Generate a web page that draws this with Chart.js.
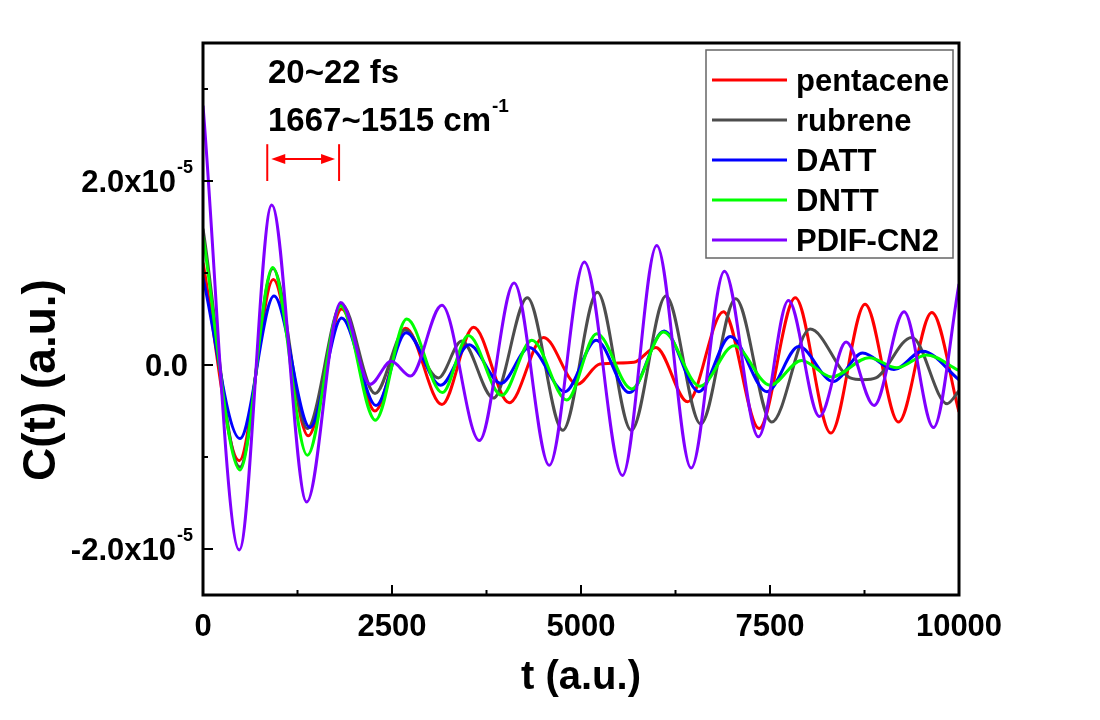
<!DOCTYPE html>
<html lang="en">
<head>
<meta charset="UTF-8">
<title>C(t)</title>
<script src="https://cdn.jsdelivr.net/npm/chart.js"></script>
<style>
  html, body { margin: 0; padding: 0; background: #fff; }
  #wrap { width: 1100px; height: 720px; }
</style>
</head>
<body>
<div id="wrap"><canvas id="chartCanvas" width="1100" height="720"></canvas></div>
<script>
// C(t), in units of 1e-5 (t in a.u.)
const UNIT = 1e-5;

const pentaceneT = [0, 480, 930, 1393, 1835, 2275, 2680, 3160, 3580, 4050, 4505, 4950, 5250, 5700, 5990, 6410, 6884, 7355, 7835, 8304, 8758, 9200, 9641, 10000];
const pentaceneC = [1.11, -1.04, 0.93, -0.77, 0.61, -0.50, 0.40, -0.43, 0.41, -0.41, 0.30, -0.21, 0.01, 0.03, 0.19, -0.40, 0.58, -0.69, 0.73, -0.74, 0.66, -0.62, 0.57, -0.51];

const rubreneT = [0, 489, 925, 1380, 1835, 2275, 2672, 3113, 3422, 3841, 4290, 4759, 5217, 5665, 6124, 6583, 7046, 7523, 8030, 8560, 8735, 8900, 9376, 9843, 10000];
const rubreneC = [1.48, -1.11, 1.05, -0.69, 0.66, -0.31, 0.38, -0.14, 0.26, -0.36, 0.73, -0.71, 0.79, -0.71, 0.75, -0.64, 0.72, -0.62, 0.39, -0.14, -0.16, -0.14, 0.30, -0.42, -0.28];

const dattT = [0, 489, 939, 1415, 1835, 2289, 2686, 3145, 3520, 3940, 4315, 4789, 5200, 5640, 6100, 6560, 6975, 7460, 7880, 8335, 8725, 9140, 9520, 10000];
const dattC = [0.95, -0.80, 0.75, -0.68, 0.51, -0.44, 0.35, -0.22, 0.22, -0.20, 0.19, -0.29, 0.27, -0.30, 0.37, -0.29, 0.31, -0.29, 0.20, -0.18, 0.13, -0.05, 0.15, -0.16];

const dnttT = [0, 489, 922, 1380, 1822, 2280, 2695, 3166, 3510, 3950, 4350, 4811, 5208, 5671, 6090, 6574, 7025, 7502, 7917, 8315, 8812, 9180, 9571, 10000];
const dnttC = [1.40, -1.14, 1.06, -0.98, 0.64, -0.60, 0.50, -0.30, 0.32, -0.33, 0.27, -0.38, 0.34, -0.26, 0.36, -0.23, 0.21, -0.22, 0.05, -0.13, 0.08, -0.03, 0.11, -0.06];

const pdifT = [0, 480, 909, 1372, 1822, 2210, 2490, 2745, 3160, 3656, 4115, 4580, 5045, 5548, 6002, 6457, 6897, 7347, 7744, 8154, 8507, 8877, 9274, 9662, 10000];
const pdifC = [2.82, -2.01, 1.74, -1.49, 0.68, -0.21, 0.04, -0.12, 0.65, -0.82, 0.89, -1.09, 1.12, -1.20, 1.30, -1.12, 1.02, -0.78, 0.70, -0.56, 0.25, -0.44, 0.58, -0.68, 0.88];

const seriesNames = ['pentacene', 'rubrene', 'DATT', 'DNTT', 'PDIF-CN2'];
const seriesColors = ['#ff0000', '#4d4d4d', '#0000ff', '#00ff00', '#8000ff'];

// axis ticks
const xMajor = [0, 2500, 5000, 7500, 10000];
const xMinor = [1250, 3750, 6250, 8750];
const yMajor = [-2, 0, 2];
const yMinor = [-1, 1, 3];
const yTickText = ['-2.0x10', '0.0', '2.0x10'];
const yTickSup = ['-5', '', '-5'];

const FONT = "'Liberation Sans', Arial, sans-serif";

function toPoints(ts, cs) {
    return ts.map((t, i) => ({ x: t, y: cs[i] * UNIT }));
}

const allT = [pentaceneT, rubreneT, dattT, dnttT, pdifT];
const allC = [pentaceneC, rubreneC, dattC, dnttC, pdifC];

const datasets = seriesNames.map((name, i) => ({
    label: name,
    data: toPoints(allT[i], allC[i]),
    borderColor: seriesColors[i],
    borderWidth: 3,
    pointRadius: 0,
    fill: false,
    cubicInterpolationMode: 'monotone',
    order: seriesNames.length - i
}));

// frame, inward ticks, y labels with exponents, legend box, annotation
const extras = {
    id: 'extras',
    afterDatasetsDraw(chart) {
        const { ctx, chartArea: a, scales: { x, y } } = chart;
        ctx.save();

        ctx.strokeStyle = '#000';
        ctx.lineWidth = 3;
        ctx.strokeRect(a.left, a.top, a.right - a.left, a.bottom - a.top);

        ctx.lineWidth = 2;
        const seg = (x1, y1, x2, y2) => { ctx.beginPath(); ctx.moveTo(x1, y1); ctx.lineTo(x2, y2); ctx.stroke(); };
        xMajor.forEach(v => { const p = x.getPixelForValue(v); seg(p, a.bottom, p, a.bottom - 10); });
        xMinor.forEach(v => { const p = x.getPixelForValue(v); seg(p, a.bottom, p, a.bottom - 5); });
        yMajor.forEach(v => { const p = y.getPixelForValue(v * UNIT); seg(a.left, p, a.left + 10, p); });
        yMinor.forEach(v => { const p = y.getPixelForValue(v * UNIT); seg(a.left, p, a.left + 5, p); });

        // y tick labels
        ctx.fillStyle = '#000';
        ctx.textBaseline = 'alphabetic';
        ctx.textAlign = 'left';
        yMajor.forEach((v, i) => {
            const p = y.getPixelForValue(v * UNIT);
            const rightEdge = yTickSup[i] ? a.left - 11 : a.left - 15;
            ctx.font = 'bold 18px ' + FONT;
            const supW = yTickSup[i] ? ctx.measureText(yTickSup[i]).width : 0;
            ctx.font = 'bold 31px ' + FONT;
            const baseW = ctx.measureText(yTickText[i]).width;
            const x0 = rightEdge - supW - baseW;
            ctx.fillText(yTickText[i], x0, p + 11);
            if (yTickSup[i]) {
                ctx.font = 'bold 18px ' + FONT;
                ctx.fillText(yTickSup[i], x0 + baseW + 1, p - 8);
            }
        });

        // y axis title
        ctx.save();
        ctx.translate(42, 380);
        ctx.rotate(-Math.PI / 2);
        ctx.textAlign = 'center';
        ctx.textBaseline = 'middle';
        ctx.font = 'bold 46px ' + FONT;
        ctx.fillText('C(t) (a.u.)', 0, 0);
        ctx.restore();

        // legend
        const lx = 706, ly = 50, lw = 247, lh = 208;
        ctx.strokeStyle = '#666';
        ctx.lineWidth = 1.5;
        ctx.strokeRect(lx, ly, lw, lh);
        ctx.font = 'bold 31px ' + FONT;
        chart.data.datasets.forEach((ds, i) => {
            const ry = ly + 30 + i * 40;
            ctx.strokeStyle = ds.borderColor;
            ctx.lineWidth = 3;
            seg(lx + 6, ry, lx + 81, ry);
            ctx.fillStyle = '#000';
            ctx.fillText(ds.label, lx + 90, ry + 11);
        });

        // period annotation
        const tx = x.getPixelForValue(860);
        ctx.font = 'bold 33px ' + FONT;
        ctx.fillText('20~22 fs', tx, y.getPixelForValue(3.07 * UNIT));
        const line2 = '1667~1515 cm';
        const l2y = y.getPixelForValue(2.54 * UNIT);
        ctx.fillText(line2, tx, l2y);
        const l2w = ctx.measureText(line2).width;
        ctx.font = 'bold 19px ' + FONT;
        ctx.fillText('-1', tx + l2w + 1, l2y - 19);

        // red double arrow
        const xa = x.getPixelForValue(850), xb = x.getPixelForValue(1800);
        const ya = y.getPixelForValue(2.4 * UNIT), yb = y.getPixelForValue(2.0 * UNIT);
        const ym = y.getPixelForValue(2.24 * UNIT);
        ctx.strokeStyle = '#ff0000';
        ctx.fillStyle = '#ff0000';
        ctx.lineWidth = 2;
        seg(xa, ya, xa, yb);
        seg(xb, ya, xb, yb);
        seg(xa + 8, ym, xb - 8, ym);
        ctx.beginPath();
        ctx.moveTo(xa + 4, ym); ctx.lineTo(xa + 18, ym - 5); ctx.lineTo(xa + 18, ym + 5); ctx.closePath(); ctx.fill();
        ctx.beginPath();
        ctx.moveTo(xb - 4, ym); ctx.lineTo(xb - 18, ym - 5); ctx.lineTo(xb - 18, ym + 5); ctx.closePath(); ctx.fill();

        ctx.restore();
    }
};

new Chart(document.getElementById('chartCanvas').getContext('2d'), {
    type: 'line',
    data: { datasets: datasets },
    options: {
        responsive: false,
        animation: false,
        layout: { padding: { top: 43, right: 141, left: 0, bottom: 0 } },
        plugins: { legend: { display: false }, tooltip: { enabled: false } },
        scales: {
            x: {
                type: 'linear',
                min: 0,
                max: 10000,
                ticks: {
                    stepSize: 2500,
                    color: '#000',
                    padding: 14,
                    maxRotation: 0,
                    autoSkip: false,
                    font: { family: FONT, size: 31, weight: 'bold' },
                    callback: v => String(v)
                },
                grid: { display: false, drawTicks: false },
                border: { display: false },
                title: {
                    display: true,
                    text: 't (a.u.)',
                    color: '#000',
                    padding: { top: 0, bottom: 18 },
                    font: { family: FONT, size: 40, weight: 'bold' }
                },
                afterFit(scale) { scale.height = 125; }
            },
            y: {
                type: 'linear',
                min: -2.5e-5,
                max: 3.5e-5,
                ticks: { display: false },
                grid: { display: false, drawTicks: false },
                border: { display: false },
                afterFit(scale) { scale.width = 203; }
            }
        }
    },
    plugins: [extras]
});
</script>
</body>
</html>
